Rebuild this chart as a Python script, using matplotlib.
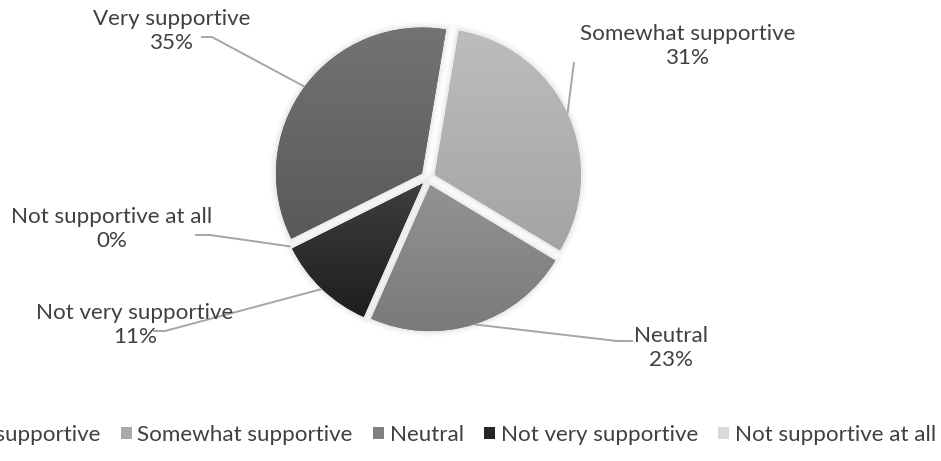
import numpy as np
import matplotlib
matplotlib.use("Agg")
import matplotlib.pyplot as plt
from matplotlib.colors import LinearSegmentedColormap
from matplotlib.patches import Patch, Wedge

# survey answers, in the order the slices are drawn (clockwise)
categories = ["Very supportive", "Somewhat supportive", "Neutral",
              "Not very supportive", "Not supportive at all"]
shares = [35, 31, 23, 11, 0]

# slice shading: lighter at the top, darker at the bottom
top_colors = ["#737373", "#bdbdbd", "#939393", "#3e3e3e", "#e2e2e2"]
bottom_colors = ["#595959", "#a4a4a4", "#7a7a7a", "#1e1e1e", "#cfcfcf"]
legend_colors = ["#636363", "#a9a9a9", "#808080", "#262626", "#d9d9d9"]

W, H = 941, 461
text_col = "#404040"
line_col = "#a6a6a6"
fs = 16.1

plt.rcParams['font.family'] = ['Lato', 'DejaVu Sans']

fig = plt.figure(figsize=(W / 100, H / 100), dpi=100)
ax = fig.add_axes([0, 0, 1, 1])

# axes in pixel units, so radius and explode offset are in px
cx, cy, R = 428, H - 178, 146
gap = 7.5
wedges, _ = ax.pie(shares, center=(cx, cy), radius=R, startangle=206.5,
                   counterclock=False, explode=[gap] * len(shares),
                   colors=bottom_colors, wedgeprops=dict(linewidth=0))
ax.set_xlim(0, W)
ax.set_ylim(0, H)
ax.set_aspect("equal")
ax.axis("off")

# soft shadow + vertical gradient per slice
grad = np.linspace(1, 0, 256).reshape(-1, 1)
for w, c0, c1 in zip(wedges, top_colors, bottom_colors):
    if w.theta2 - w.theta1 < 1e-6:
        continue
    for lw, a in [(9, 0.015), (6, 0.025), (3, 0.04)]:
        ax.add_patch(Wedge(w.center, w.r, w.theta1, w.theta2,
                           facecolor="none", edgecolor="black",
                           linewidth=lw, alpha=a, zorder=0.5))
    bb = w.get_path().get_extents()
    cmap = LinearSegmentedColormap.from_list("g", [c1, c0])
    im = ax.imshow(grad, extent=[bb.x0, bb.x1, bb.y0, bb.y1], cmap=cmap,
                   aspect="auto", origin="upper", zorder=2, interpolation="bilinear")
    im.set_clip_path(w)
    w.set_zorder(1)

ax.set_xlim(0, W)
ax.set_ylim(0, H)

# label text centre and leader path (pixels from top-left) per slice
label_pos = [(172, 31), (688, 46), (671, 348), (135, 325), (112, 229)]
leader_pts = [[(212, 37), (201, 37)],
              [(574, 62)],
              [(617, 341), (633, 341)],
              [(165, 331), (153, 331)],
              [(210, 235), (195, 235)]]

for w, name, val, (tx, ty), pts in zip(wedges, categories, shares, label_pos, leader_pts):
    mid = np.deg2rad((w.theta1 + w.theta2) / 2)
    sx = w.center[0] + w.r * np.cos(mid)
    sy = w.center[1] + w.r * np.sin(mid)
    xs = [sx] + [p[0] for p in pts]
    ys = [sy] + [H - p[1] for p in pts]
    ax.plot(xs, ys, color=line_col, lw=1.4, zorder=3, solid_capstyle="butt")
    ax.text(tx, H - ty, f"{name}\n{val}%", ha="center", va="center",
            fontsize=fs, color=text_col, linespacing=1.25, zorder=4)

handles = [Patch(facecolor=c, edgecolor="none") for c in legend_colors]
fig.legend(handles, categories, loc="center right",
           bbox_to_anchor=(936 / W, (H - 435) / H), ncol=5, frameon=False,
           fontsize=fs, labelcolor=text_col, handlelength=0.5, handleheight=0.5,
           handletextpad=0.25, columnspacing=0.9, borderpad=0, borderaxespad=0)

fig.savefig("out.png", dpi=100)
